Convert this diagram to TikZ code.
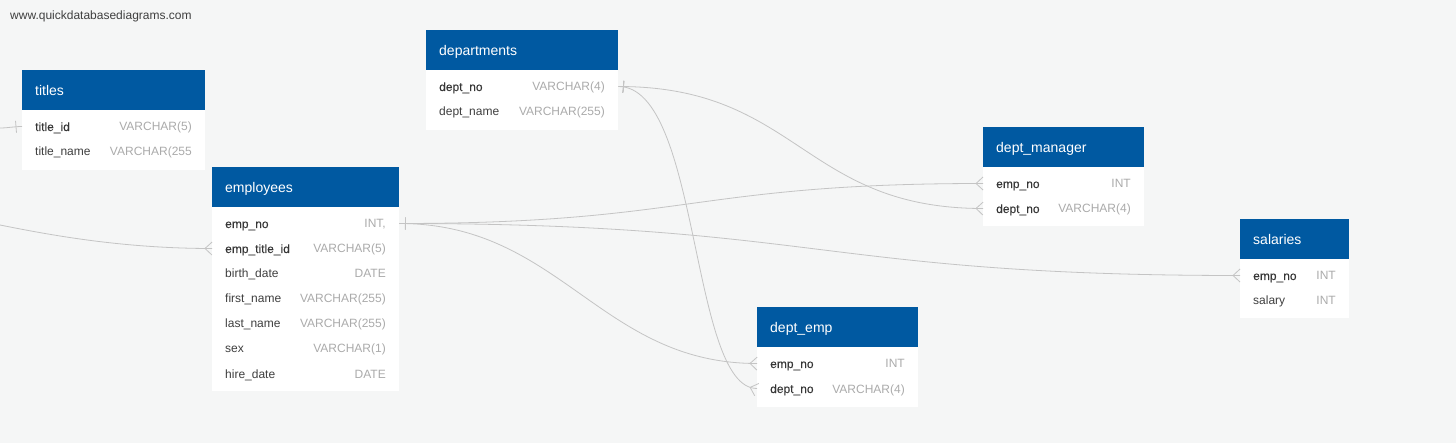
\documentclass[tikz,border=0pt]{standalone}
\usepackage{fontspec}
\setmainfont{Liberation Sans}
\newfontfamily\keyfont[FakeBold=0.15]{Liberation Sans}
\usepackage{tikz}
\usetikzlibrary{decorations.markings}
\definecolor{qbg}{HTML}{F5F6F6}
\definecolor{qhead}{HTML}{0059A1}
\definecolor{qname}{HTML}{3F3F3F}
\definecolor{qtype}{HTML}{ABABAB}
\definecolor{qline}{HTML}{C4C4C4}

\begin{document}
\begin{tikzpicture}[x=1pt, y=-1pt,
    tblhead/.style={fill=qhead, text=white, anchor=north west, inner xsep=13pt, inner ysep=0pt,
      minimum height=40pt, text height=11pt, text depth=1pt, font=\fontsize{14}{16}\selectfont},
    tblbody/.style={fill=white, anchor=north west, inner sep=0pt},
    fieldname/.style={text=qname, anchor=base west, inner sep=0pt, text height=9pt, text depth=0pt,
      font=\fontsize{12}{14}\selectfont},
    keyname/.style={fieldname, text=qname!85!black, font=\fontsize{12}{14}\selectfont\keyfont},
    fieldtype/.style={fieldname, text=qtype, anchor=base east},
    link/.style={draw=qline, line width=0.8pt},
    onebar/.style={postaction={decorate, decoration={markings,
      mark=at position #1 with {\draw[link] (0,-6pt) -- (0,6pt);}}}},
    crowfoot/.style={postaction={decorate, decoration={markings,
      mark=at position -7pt with {\draw[link] (7pt,-6.5pt) -- (0,0) -- (7pt,6.5pt);}}}}]
      \fill[qbg] (0,0) rectangle (1456,443);
      \useasboundingbox (0,0) rectangle (1456,443);

      \node[fieldname, text=qname] (site) at (10,20) {www.quickdatabasediagrams.com};

      % titles
      \node[tblhead, text width=157pt] (titles) at (22,70) {titles};
      \node[tblbody, minimum width=183pt, minimum height=60pt] (titles-b) at (22,110) {};
      \foreach \kind/\fname/\ftype [count=\i] in {keyname/title\_id/VARCHAR(5), fieldname/title\_name/VARCHAR(255}{
        \node[\kind] (titles-\i) at (35,{131+25*(\i-1)}) {\fname};
        \node[fieldtype] (titles-t\i) at (192,{131+25*(\i-1)}) {\ftype};
      }

      % employees
      \node[tblhead, text width=161pt] (employees) at (212,167) {employees};
      \node[tblbody, minimum width=187pt, minimum height=184pt] (employees-b) at (212,207) {};
      \foreach \kind/\fname/\ftype [count=\i] in {keyname/emp\_no/{INT,}, keyname/emp\_title\_id/VARCHAR(5),
          fieldname/birth\_date/DATE, fieldname/first\_name/VARCHAR(255), fieldname/last\_name/VARCHAR(255),
          fieldname/sex/VARCHAR(1), fieldname/hire\_date/DATE}{
        \node[\kind] (employees-\i) at (225,{228+25*(\i-1)}) {\fname};
        \node[fieldtype] (employees-t\i) at (386,{228+25*(\i-1)}) {\ftype};
      }

      % departments
      \node[tblhead, text width=166pt] (departments) at (426,30) {departments};
      \node[tblbody, minimum width=192pt, minimum height=60pt] (departments-b) at (426,70) {};
      \foreach \kind/\fname/\ftype [count=\i] in {keyname/dept\_no/VARCHAR(4), fieldname/dept\_name/VARCHAR(255)}{
        \node[\kind] (departments-\i) at (439,{91+25*(\i-1)}) {\fname};
        \node[fieldtype] (departments-t\i) at (605,{91+25*(\i-1)}) {\ftype};
      }

      % dept_manager
      \node[tblhead, text width=135pt] (deptmgr) at (983,127) {dept\_manager};
      \node[tblbody, minimum width=161pt, minimum height=59pt] (deptmgr-b) at (983,167) {};
      \foreach \kind/\fname/\ftype [count=\i] in {keyname/emp\_no/INT, keyname/dept\_no/VARCHAR(4)}{
        \node[\kind] (deptmgr-\i) at (996,{188+25*(\i-1)}) {\fname};
        \node[fieldtype] (deptmgr-t\i) at (1131,{188+25*(\i-1)}) {\ftype};
      }

      % dept_emp
      \node[tblhead, text width=135pt] (deptemp) at (757,307) {dept\_emp};
      \node[tblbody, minimum width=161pt, minimum height=60pt] (deptemp-b) at (757,347) {};
      \foreach \kind/\fname/\ftype [count=\i] in {keyname/emp\_no/INT, keyname/dept\_no/VARCHAR(4)}{
        \node[\kind] (deptemp-\i) at (770,{368+25*(\i-1)}) {\fname};
        \node[fieldtype] (deptemp-t\i) at (905,{368+25*(\i-1)}) {\ftype};
      }

      % salaries
      \node[tblhead, text width=83pt] (salaries) at (1240,219) {salaries};
      \node[tblbody, minimum width=109pt, minimum height=59pt] (salaries-b) at (1240,259) {};
      \foreach \kind/\fname/\ftype [count=\i] in {keyname/emp\_no/INT, fieldname/salary/INT}{
        \node[\kind] (salaries-\i) at (1253,{280+25*(\i-1)}) {\fname};
        \node[fieldtype] (salaries-t\i) at (1336,{280+25*(\i-1)}) {\ftype};
      }

      % links
      \coordinate (offA) at (0,128);
      \coordinate (offB) at (0,225);
      \draw[link, onebar=-6pt] (offA) .. controls +(8,0) and +(-8,0) .. (titles-b.west |- titles-1);
      \draw[link, crowfoot] (offB) .. controls +(50,10) and +(-90,0) .. (employees-b.west |- employees-2);
      \draw[link, onebar=5pt, crowfoot] (departments-b.east |- departments-1)
        .. controls +(180,0) and +(-180,0) .. (deptmgr-b.west |- deptmgr-2);
      \draw[link, onebar=5pt, crowfoot] (departments-b.east |- departments-1)
        .. controls +(82,0) and +(-67,0) .. (deptemp-b.west |- deptemp-2);
      \draw[link, onebar=6pt, crowfoot] (employees-b.east |- employees-1)
        .. controls +(290,0) and +(-290,0) .. (deptmgr-b.west |- deptmgr-1);
      \draw[link, onebar=6pt, crowfoot] (employees-b.east |- employees-1)
        .. controls +(420,0) and +(-420,0) .. (salaries-b.west |- salaries-1);
      \draw[link, onebar=6pt, crowfoot] (employees-b.east |- employees-1)
        .. controls +(161,0) and +(-157,0) .. (deptemp-b.west |- deptemp-1);
    \end{tikzpicture}
\end{document}
